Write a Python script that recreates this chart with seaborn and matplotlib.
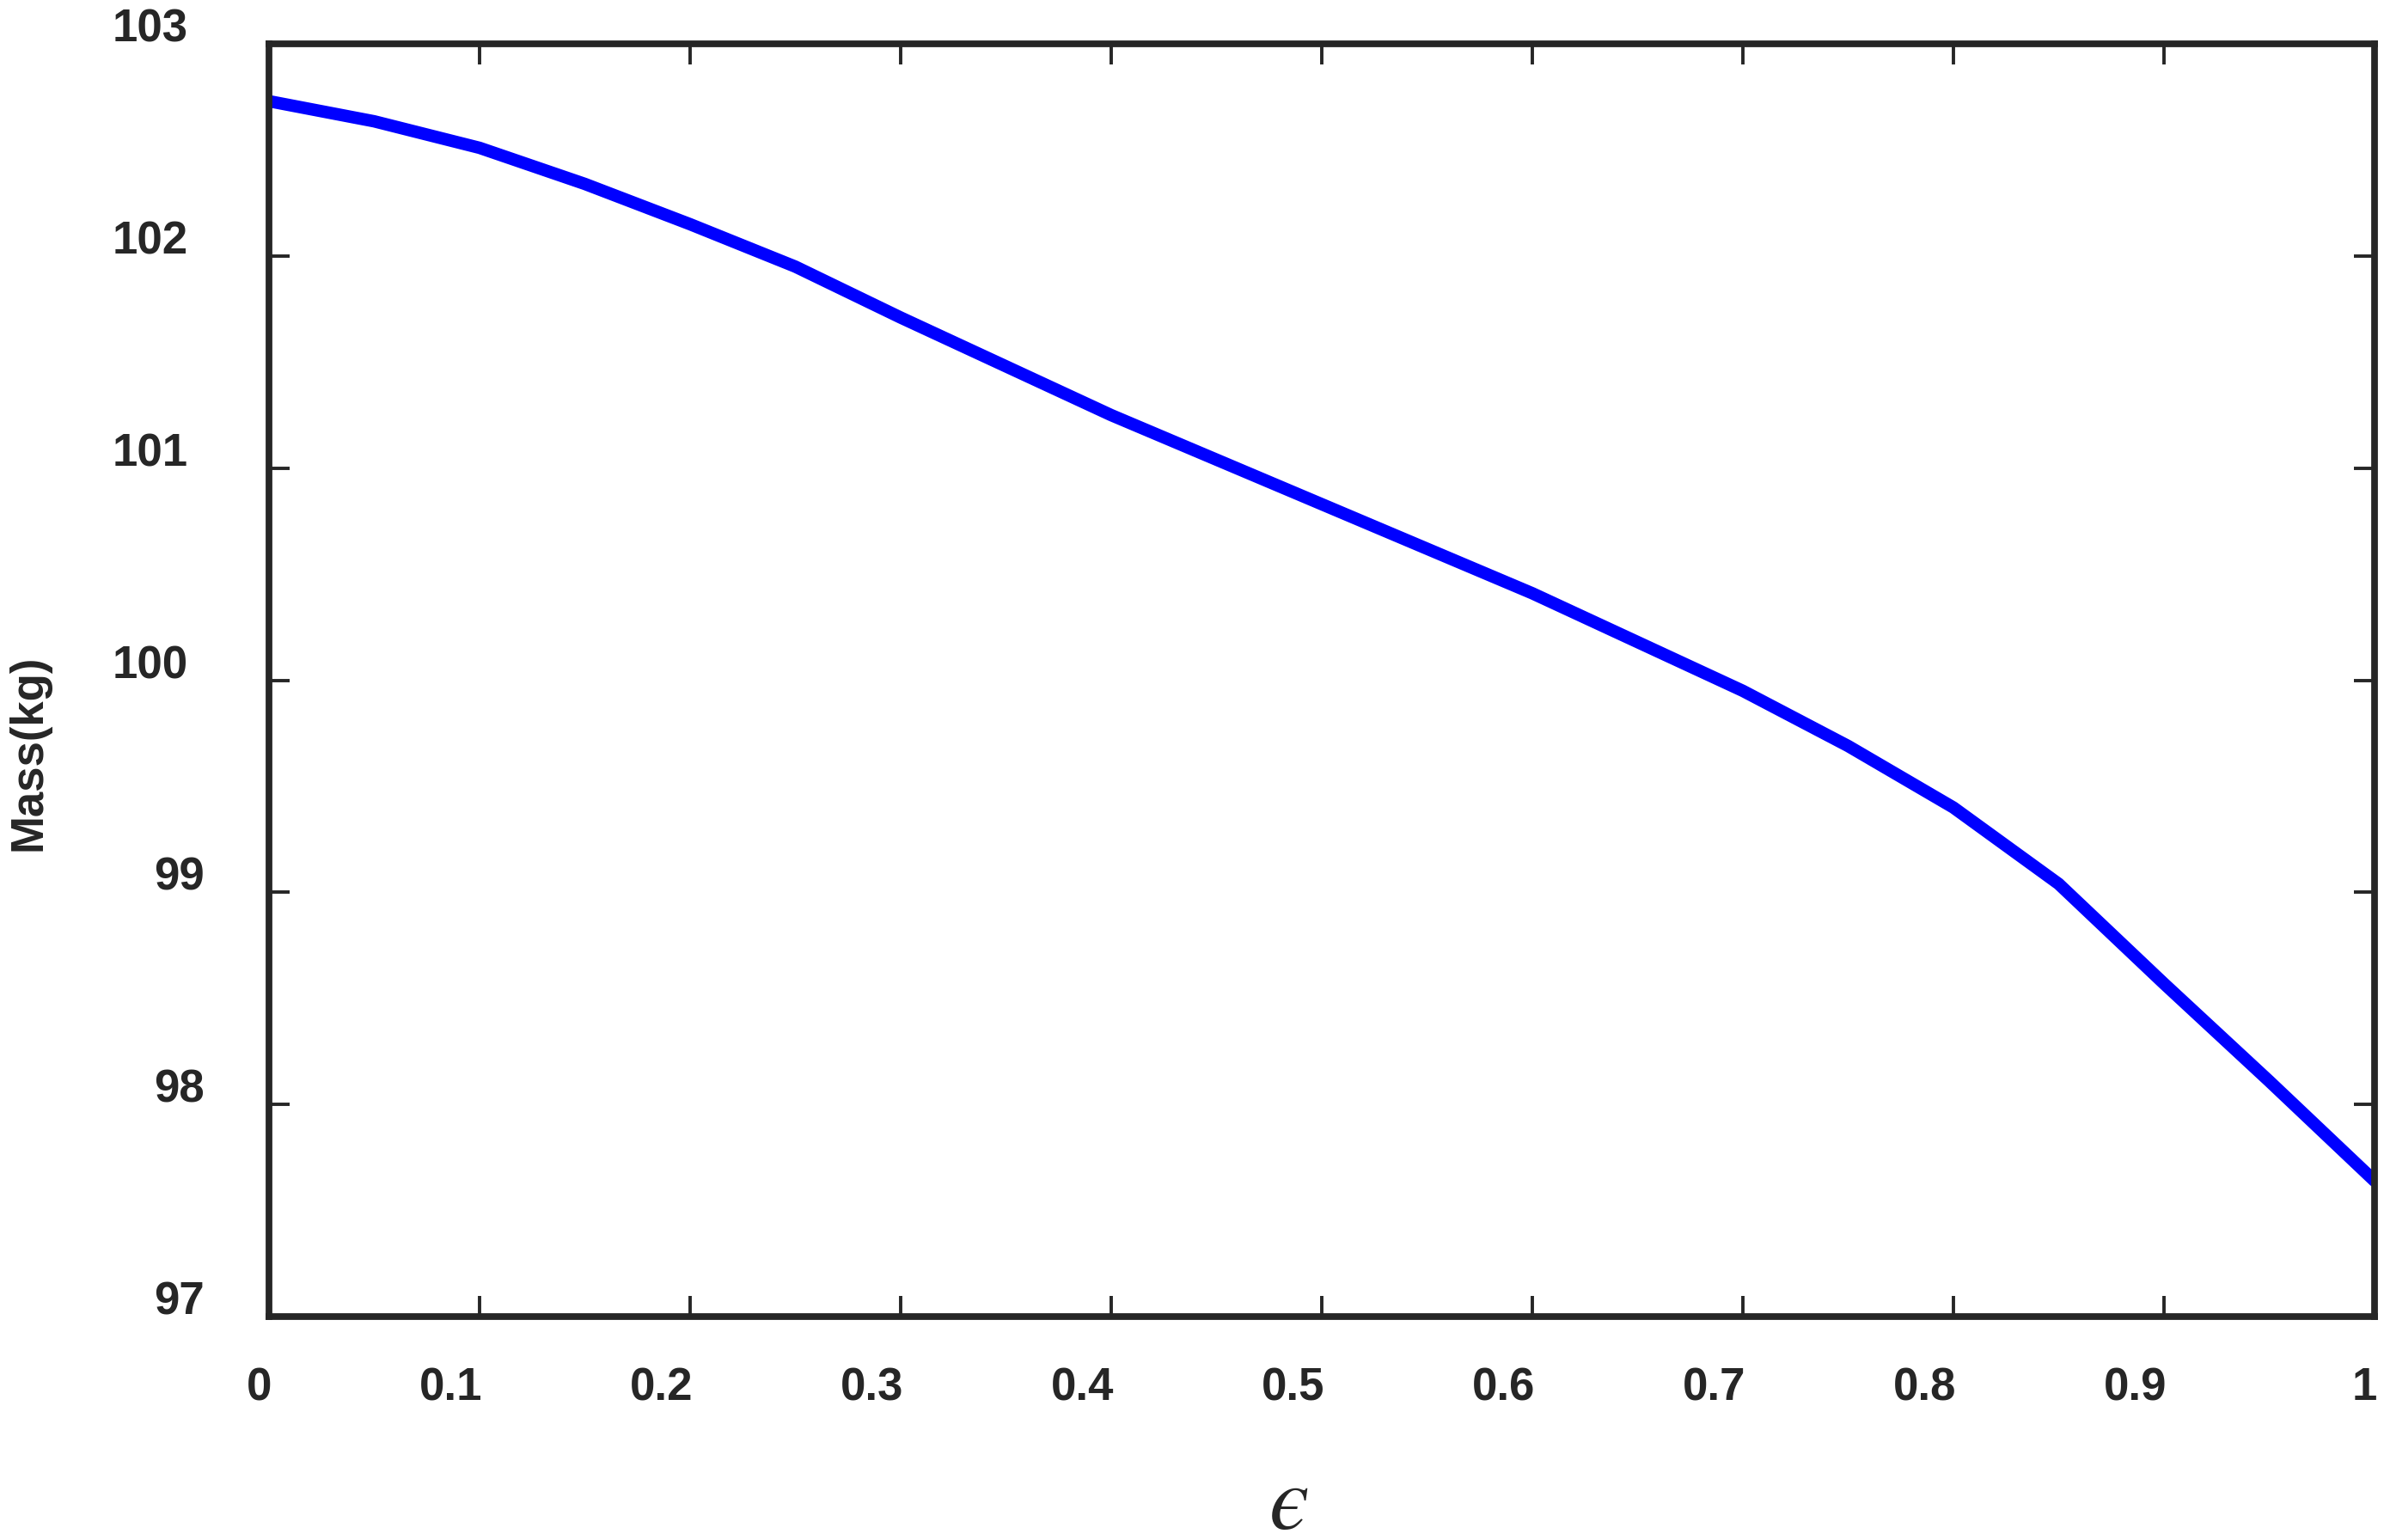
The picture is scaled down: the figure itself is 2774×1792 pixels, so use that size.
import matplotlib
matplotlib.use('Agg')
import matplotlib.pyplot as plt
import matplotlib.transforms as mtransforms
import seaborn as sns
import pandas as pd

# values
epsilon = [0.0, 0.05, 0.1, 0.15, 0.2, 0.25, 0.3, 0.35, 0.4, 0.45, 0.5,
           0.55, 0.6, 0.65, 0.7, 0.75, 0.8, 0.85, 0.9, 0.95, 1.0]
mass = [102.73, 102.635, 102.51, 102.34, 102.15, 101.95, 101.71, 101.48, 101.25, 101.04, 100.83,
        100.62, 100.41, 100.18, 99.95, 99.69, 99.40, 99.04, 98.57, 98.11, 97.64]

x_ticks = [0, 0.1, 0.2, 0.3, 0.4, 0.5, 0.6, 0.7, 0.8, 0.9, 1.0]
x_tick_labels = ['0', '0.1', '0.2', '0.3', '0.4', '0.5', '0.6', '0.7', '0.8', '0.9', '1']
y_ticks = [97, 98, 99, 100, 101, 102, 103]
y_tick_labels = ['97', '98', '99', '100', '101', '102', '103']

DARK = '#262626'

sns.set_style('ticks')
plt.rcParams['font.family'] = ['Liberation Sans', 'DejaVu Sans']
plt.rcParams['mathtext.fontset'] = 'stix'

df = pd.DataFrame({'epsilon': epsilon, 'mass': mass})

fig = plt.figure(figsize=(13.87, 8.96), dpi=200)
ax = fig.add_axes([0.1128, 0.1451, 0.8832, 0.8264])
sns.lineplot(data=df, x='epsilon', y='mass', color='#0000ff', linewidth=5.2, ax=ax)

ax.set_xlim(0, 1)
ax.set_ylim(97, 103)
for s in ax.spines.values():
    s.set_visible(True)
    s.set_linewidth(2.8)
    s.set_color(DARK)

ax.set_xticks(x_ticks)
ax.set_xticklabels(x_tick_labels, fontsize=19, fontweight='bold', color=DARK, ha='right')
ax.set_yticks(y_ticks)
ax.set_yticklabels(y_tick_labels, fontsize=19, fontweight='bold', color=DARK, ha='right')
ax.tick_params(axis='both', direction='in', length=8.5, width=1.4, color=DARK,
               top=True, right=True)
ax.tick_params(axis='x', pad=21)
ax.tick_params(axis='y', pad=27)

# nudge the tick labels the way the original export placed them
for lab in ax.get_xticklabels():
    off = mtransforms.ScaledTranslation(3 / 200, 0, fig.dpi_scale_trans)
    lab.set_transform(lab.get_transform() + off)
for lab in ax.get_yticklabels():
    dx = -19 / 200 if len(lab.get_text()) == 3 else 0
    off = mtransforms.ScaledTranslation(dx, 22 / 200, fig.dpi_scale_trans)
    lab.set_transform(lab.get_transform() + off)

ax.set_xlabel('$\u03f5$', fontsize=38, color=DARK, va='center')
ax.xaxis.set_label_coords(0.484, -0.148)
ax.set_ylabel('Mass(kg)', fontsize=19, fontweight='bold', color=DARK, va='center', ha='center')
ax.yaxis.set_label_coords(-0.114, 0.443)

fig.savefig('out.png', dpi=200, facecolor='white')
